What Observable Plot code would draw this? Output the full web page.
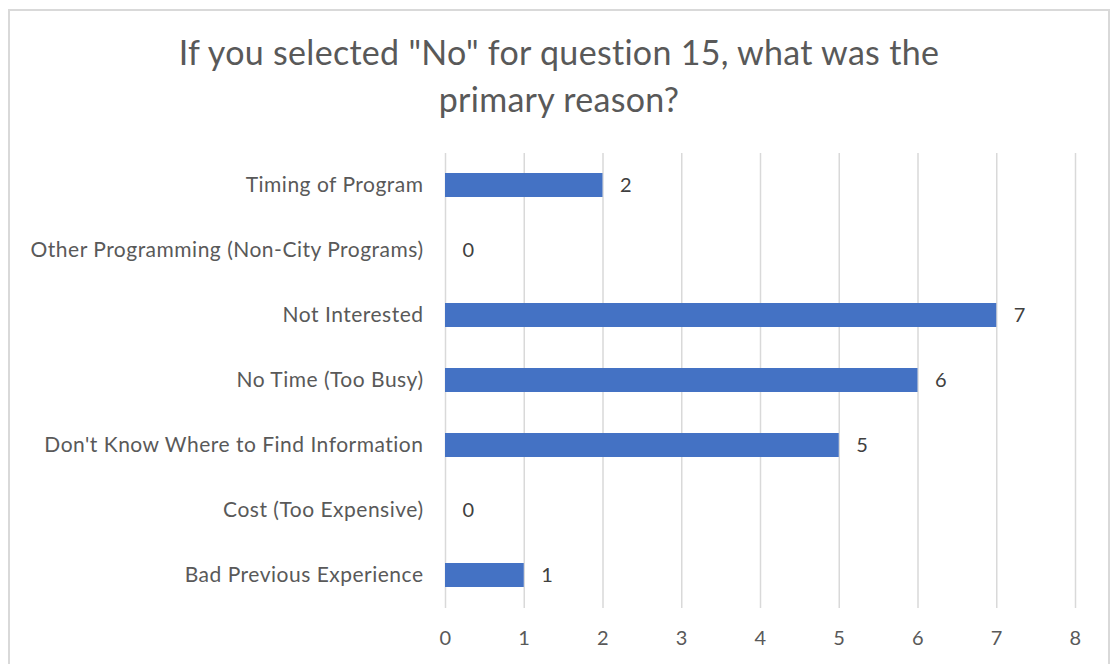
<!DOCTYPE html>
<html>
<head>
<meta charset="utf-8">
<script src="https://cdn.jsdelivr.net/npm/d3@7"></script>
<script src="https://cdn.jsdelivr.net/npm/@observablehq/plot@0.6"></script>
<style>
  html, body { margin: 0; padding: 0; background: #fff; }
  #frame { position: absolute; left: 8px; top: 9px; width: 1102px; height: 670px; border: 2px solid #d9d9d9; box-sizing: border-box; }
  #title { position: absolute; left: 0; top: 28px; width: 1118px; text-align: center; font-family: Lato, sans-serif; font-size: 34px; line-height: 47px; letter-spacing: 0.3px; color: #595959; }
  #chart { position: absolute; left: 0; top: 0; }
</style>
</head>
<body>
<div id="frame"></div>
<div id="title">If you selected "No" for question 15, what was the<br>primary reason?</div>
<div id="chart"></div>
<script>
const categories = [
  "Timing of Program",
  "Other Programming (Non-City Programs)",
  "Not Interested",
  "No Time (Too Busy)",
  "Don't Know Where to Find Information",
  "Cost (Too Expensive)",
  "Bad Previous Experience"
];
const counts = [2, 0, 7, 6, 5, 0, 1];
const xTicks = [0, 1, 2, 3, 4, 5, 6, 7, 8];

const data = categories.map((c, i) => ({category: c, value: counts[i]}));

const chart = Plot.plot({
  width: 1118,
  height: 664,
  marginLeft: 445,
  marginRight: 43,
  marginTop: 153,
  marginBottom: 56,
  style: {fontFamily: "Lato, sans-serif", fontSize: "19px", color: "#595959", background: "transparent", letterSpacing: "0.5px"},
  x: {domain: [0, 8], ticks: xTicks, label: null},
  y: {domain: categories, paddingInner: 0.63, paddingOuter: 0.315, label: null},
  marks: [
    Plot.gridX(xTicks, {stroke: "#d9d9d9", strokeOpacity: 1, strokeWidth: 1.5}),
    Plot.barX(data, {x: "value", y: "category", fill: "#4472C4"}),
    Plot.text(data, {x: "value", y: "category", text: d => String(d.value), textAnchor: "start", dx: 17, fill: "#404040", fontSize: 20}),
    Plot.axisX({ticks: xTicks, tickSize: 0, tickPadding: 22, fontSize: 20, fill: "#595959", label: null}),
    Plot.axisY({tickSize: 0, tickPadding: 22, fontSize: 21, fill: "#595959", label: null})
  ]
});
document.getElementById("chart").append(chart);
</script>
</body>
</html>
